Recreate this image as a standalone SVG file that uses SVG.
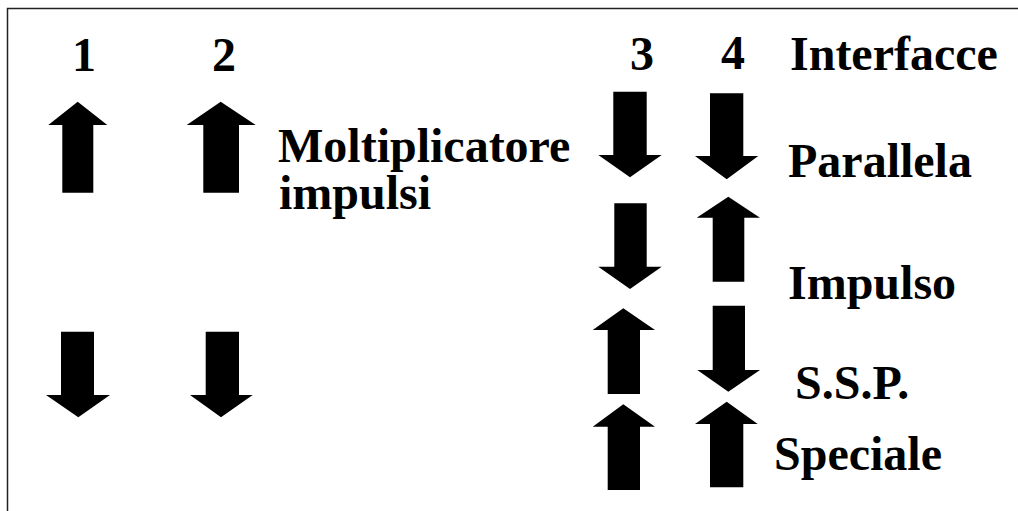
<svg xmlns="http://www.w3.org/2000/svg" width="1018" height="511" viewBox="0 0 1018 511">
  <style>
    .lbl { font-family: "Liberation Serif", "Times New Roman", serif; font-weight: bold; font-size: 48px; fill: #000; }
    .arr { fill: #000; }
    .frame { fill: none; stroke: #222; stroke-width: 1.5; }
  </style>
  <rect width="1018" height="511" fill="#fff"/>
  <!-- slide frame: only top and left edges are visible -->
  <path class="frame" d="M7.5,511 V8.5 H1018"/>

  <!-- column headers and captions -->
  <g id="labels">
    <text class="lbl" x="84" y="71" text-anchor="middle">1</text>
    <text class="lbl" x="224" y="71" text-anchor="middle">2</text>
    <text class="lbl" x="642" y="70" text-anchor="middle">3</text>
    <text class="lbl" x="733" y="69" text-anchor="middle">4</text>
    <text class="lbl" x="790" y="70">Interfacce</text>
    <text class="lbl" x="278" y="162">Moltiplicatore</text>
    <text class="lbl" x="279" y="209">impulsi</text>
    <text class="lbl" x="788" y="177">Parallela</text>
    <text class="lbl" x="788" y="299">Impulso</text>
    <text class="lbl" x="795" y="399">S.S.P.</text>
    <text class="lbl" x="774" y="470">Speciale</text>
  </g>

  <!-- block arrows -->
  <g id="arrows">
    <!-- column 1 -->
    <polygon id="a1-up" class="arr" points="77.7,101.7 107.3,125 93.3,125 93.3,192.7 62.3,192.7 62.3,125 48.3,125"/>
    <polygon id="a1-down" class="arr" points="61,331.7 94,331.7 94,395 110,395 78.3,417.3 46,395 61,395"/>
    <!-- column 2 -->
    <polygon id="a2-up" class="arr" points="220.7,101.7 255.7,125 239,125 239,192.7 203.3,192.7 203.3,125 186.7,125"/>
    <polygon id="a2-down" class="arr" points="205.7,331.7 239,331.7 239,395 252.7,395 221,417.3 190,395 205.7,395"/>
    <!-- column 3 -->
    <polygon id="a3-r1" class="arr" points="613.3,91.7 646.7,91.7 646.7,155 661.7,155 630,177.3 598.3,155 613.3,155"/>
    <polygon id="a3-r2" class="arr" points="614.3,203.3 646.7,203.3 646.7,266.7 661.7,266.7 630,289 598.3,266.7 614.3,266.7"/>
    <polygon id="a3-r3" class="arr" points="623.3,308.3 655,330 640,330 640,394 607.7,394 607.7,330 592.7,330"/>
    <polygon id="a3-r4" class="arr" points="623.3,404.3 655,426.7 640,426.7 640,490 607.7,490 607.7,426.7 592.7,426.7"/>
    <!-- column 4 -->
    <polygon id="a4-r1" class="arr" points="710,93.3 743.3,93.3 743.3,156 758.3,156 726.7,179.3 695,156 710,156"/>
    <polygon id="a4-r2" class="arr" points="728.3,196.7 760,217.7 744.3,217.7 744.3,281.7 712.7,281.7 712.7,217.7 696.7,217.7"/>
    <polygon id="a4-r3" class="arr" points="712.7,305.7 745,305.7 745,370 760,370 728.3,391.7 697.3,370 712.7,370"/>
    <polygon id="a4-r4" class="arr" points="726.7,401.7 757.7,424 743.3,424 743.3,487.3 710,487.3 710,424 695,424"/>
  </g>
</svg>
